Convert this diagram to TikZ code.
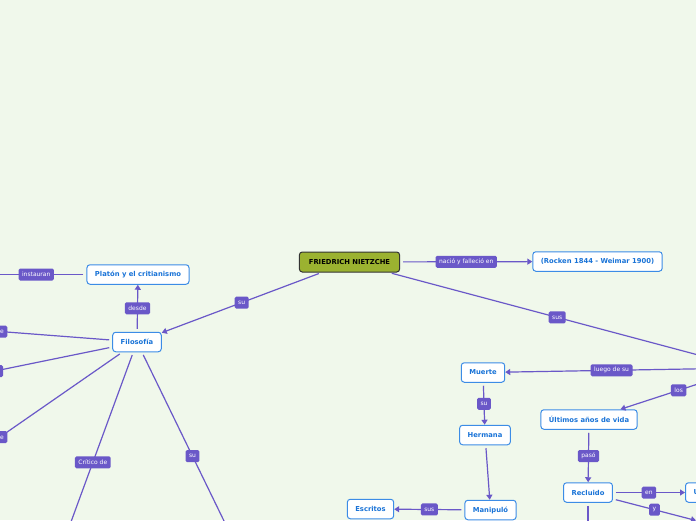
\documentclass[tikz,border=0pt]{standalone}
\usepackage{fontspec}
\setmainfont{DejaVu Sans}
\usetikzlibrary{arrows.meta, positioning}

\definecolor{bgmap}{RGB}{240,248,235}
\definecolor{linkc}{RGB}{106,88,200}
\definecolor{boxline}{RGB}{60,140,230}
\definecolor{boxtext}{RGB}{25,115,215}
\definecolor{rootfill}{RGB}{155,178,48}

\begin{document}
\begin{tikzpicture}[x=1pt, y=-1pt,
    box/.style={rectangle, draw=boxline, line width=1pt, fill=white, rounded corners=3pt, inner xsep=8pt, minimum height=19.5pt, font=\fontsize{6.8}{8}\selectfont\bfseries, text=boxtext},
    root/.style={box, draw=black!80, fill=rootfill, text=black, inner xsep=9.5pt, minimum height=20pt},
    lbl/.style={rectangle, fill=linkc, rounded corners=1.5pt, inner xsep=3.5pt, inner ysep=1pt, minimum height=12pt, font=\fontsize{6}{7}\selectfont, text=white},
    link/.style={draw=linkc, line width=1.2pt, shorten <=3pt},
    arrow/.style={link, -{Triangle[length=5pt, width=6pt]}}
]

% Background and frame
\fill[bgmap] (0,0) rectangle (696,520);
\useasboundingbox (0,0) rectangle (696,520);

% Nodes at absolute positions (pixels of the map)
\node[root] (main) at (349.5, 262) {FRIEDRICH NIETZCHE};
\node[box] (rocken) at (597.5, 261.5) {(Rocken 1844 - Weimar 1900)};
\node[box] (platon) at (138, 274.5) {Platón y el critianismo};
\node[box] (filo) at (137, 342) {Filosofía};
\node[box] (muerte) at (483, 372.5) {Muerte};
\node[box] (hermana) at (485, 435) {Hermana};
\node[box] (manip) at (490.5, 510) {Manipuló};
\node[box] (escritos) at (370.5, 509) {Escritos};
\node[box] (ultimos) at (589, 419.5) {Últimos años de vida};
\node[box] (recluido) at (588, 492.5) {Recluido};
\node[box, anchor=west] (una) at (685, 492.5) {U};

% Free ends that run out of the frame
\coordinate (obras) at (747, 368);
\coordinate (inst) at (-14, 274.5);
\coordinate (fl1) at (0, 331.5);
\coordinate (fl2) at (-5, 371);
\coordinate (fl3) at (0, 437);
\coordinate (crit) at (57, 560);
\coordinate (fsu) at (243, 560);
\coordinate (rdown) at (696, 520.5);
\coordinate (rbot) at (588, 540);

% Arrows
\draw[arrow] (main) -- node[lbl] {nació y falleció en} (rocken);
\draw[arrow] (main) -- node[lbl] {su} (filo);
\draw[arrow] (main) -- node[lbl, pos=0.47] {sus} (obras);
\draw[arrow] (filo) -- node[lbl] {desde} (platon);
\draw[arrow] (platon) -- node[lbl] {instauran} (inst);
\draw[link] (filo) -- node[lbl, pos=1] {de} (fl1);
\draw[link] (filo) -- node[lbl, pos=1, minimum width=16pt] {} (fl2);
\draw[link] (filo) -- node[lbl, pos=1] {de} (fl3);
\draw[link] (filo) -- node[lbl, pos=0.53] {Crítico de} (crit);
\draw[link] (filo) -- node[lbl] {su} (fsu);
\draw[arrow] (obras) -- node[lbl, pos=0.56] {luego de su} (muerte);
\draw[arrow] (obras) -- node[lbl, pos=0.54] {los} (ultimos);
\draw[arrow] (muerte) -- node[lbl] {su} (hermana);
\draw[arrow] (hermana) -- (manip);
\draw[arrow] (manip) -- node[lbl] {sus} (escritos);
\draw[arrow] (ultimos) -- node[lbl] {pasó} (recluido);
\draw[arrow] (recluido) -- node[lbl] {en} (una);
\draw[arrow] (recluido) -- node[lbl] {y} (rdown);
\draw[link] (recluido) -- (rbot);

\end{tikzpicture}
\end{document}
